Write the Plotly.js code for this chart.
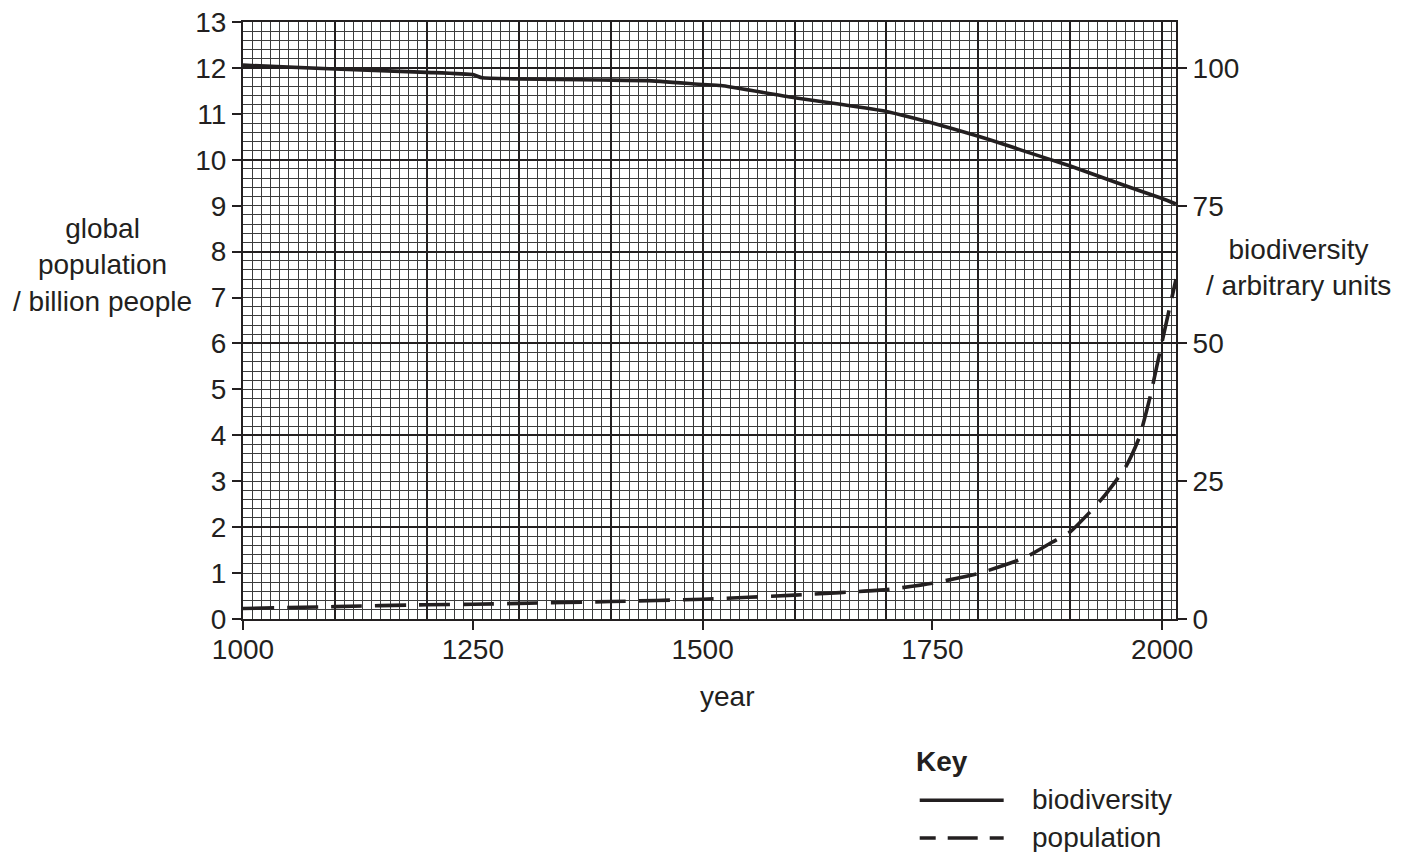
<!DOCTYPE html>
<html>
<head>
<meta charset="utf-8">
<script src="https://cdn.plot.ly/plotly-3.0.1.min.js"></script>
<style>html,body{margin:0;padding:0;background:#fff;}#chart{width:1415px;height:852px;}</style>
</head>
<body>
<div id="chart"></div>
<script>
// ---- data ----
const bioYears  = [1000, 1100, 1200, 1250, 1260, 1300, 1390, 1440, 1500, 1520, 1600, 1650, 1700, 1725, 1750, 1800, 1825, 1850, 1900, 1950, 2000, 2015];
const bioValues = [100.5, 99.8, 99.2, 98.8, 98.2, 98.0, 97.8, 97.7, 97.0, 96.8, 94.6, 93.4, 92.1, 91.1, 90.0, 87.6, 86.3, 84.9, 82.2, 79.2, 76.3, 75.3];

const popYears  = [1000, 1100, 1200, 1250, 1300, 1400, 1500, 1600, 1700, 1750, 1800, 1850, 1880, 1900, 1920, 1935, 1950, 1960, 1975, 1987, 2000, 2010, 2015];
const popValues = [0.23, 0.27, 0.31, 0.32, 0.34, 0.38, 0.43, 0.52, 0.64, 0.78, 0.99, 1.33, 1.67, 1.90, 2.30, 2.63, 3.02, 3.30, 3.95, 4.85, 6.05, 6.95, 7.40];

const xTickVals   = [1000, 1250, 1500, 1750, 2000];
const yLeftTicks  = [0,1,2,3,4,5,6,7,8,9,10,11,12,13];
const yRightTicks = [0, 25, 50, 75, 100];

const seriesNames = ['biodiversity', 'population'];
const xTitle = 'year';
const yLeftTitle = 'global<br>population<br>/ billion people';
const yRightTitle = 'biodiversity<br>/ arbitrary units';
const keyTitle = 'Key';

// ---- styling ----
const INK = '#231f20';
const MINOR = '#3c3c3c';
const FONT = 'Liberation Sans, Arial, Helvetica, sans-serif';
const FS = 28;
const LW = 3.6;
const POP_DASH = '31px,13px';

const traces = [
  {x: [], y: [], xaxis: 'x', yaxis: 'y', type: 'scatter', mode: 'lines', showlegend: false, hoverinfo: 'skip'},
  {x: bioYears, y: bioValues, xaxis: 'x2', yaxis: 'y2', type: 'scatter', mode: 'lines',
   name: seriesNames[0], showlegend: false, line: {color: INK, width: LW, shape: 'spline', smoothing: 0.4}},
  {x: popYears, y: popValues, xaxis: 'x2', yaxis: 'y3', type: 'scatter', mode: 'lines',
   name: seriesNames[1], showlegend: false, line: {color: INK, width: LW, dash: POP_DASH, shape: 'spline', smoothing: 0.5}}
];

const xr = [1000, 2015];
const yr = [0, 13];
const y2r = [0, 1300/12];

const txt = (s, x, y, xa, extra) => Object.assign({
  text: s, xref: 'paper', yref: 'paper', x: x, y: y, xanchor: xa, yanchor: 'middle',
  showarrow: false, align: 'center', font: {size: FS, family: FONT, color: INK}
}, extra || {});

const layout = {
  width: 1415, height: 852,
  margin: {l: 243, r: 239, t: 22, b: 233, pad: 0},
  paper_bgcolor: '#ffffff', plot_bgcolor: '#ffffff',
  font: {family: FONT, size: FS, color: INK},
  showlegend: false,
  xaxis: {
    range: xr, tick0: 1000, dtick: 100, showticklabels: false, ticks: '',
    showgrid: true, gridcolor: INK, gridwidth: 2,
    minor: {tick0: 1000, dtick: 10, showgrid: true, gridcolor: MINOR, gridwidth: 1, ticks: ''},
    showline: true, mirror: true, linecolor: INK, linewidth: 2, zeroline: false, fixedrange: true
  },
  xaxis2: {
    overlaying: 'x', anchor: 'y', side: 'bottom', range: xr,
    tickmode: 'array', tickvals: xTickVals, ticktext: xTickVals.map(String),
    ticks: 'outside', ticklen: 10, tickwidth: 2, tickcolor: INK, ticklabelstandoff: -5,
    showgrid: false, zeroline: false, showline: false,
    tickfont: {size: FS, color: INK, family: FONT}, fixedrange: true
  },
  yaxis: {
    range: yr, tick0: 0, dtick: 2, showticklabels: false, ticks: '',
    showgrid: true, gridcolor: INK, gridwidth: 2,
    minor: {tick0: 0, dtick: 0.2, showgrid: true, gridcolor: MINOR, gridwidth: 1, ticks: ''},
    showline: true, mirror: true, linecolor: INK, linewidth: 2, zeroline: false, fixedrange: true
  },
  yaxis3: {
    overlaying: 'y', anchor: 'x', side: 'left', range: yr,
    tickmode: 'array', tickvals: yLeftTicks, ticktext: yLeftTicks.map(String),
    ticks: 'outside', ticklen: 10, tickwidth: 2, tickcolor: INK,
    showgrid: false, zeroline: false, showline: false,
    tickfont: {size: FS, color: INK, family: FONT}, fixedrange: true
  },
  yaxis2: {
    overlaying: 'y', anchor: 'x', side: 'right', range: y2r,
    tickmode: 'array', tickvals: yRightTicks, ticktext: yRightTicks.map(String),
    ticks: 'outside', ticklen: 10, tickwidth: 2, tickcolor: INK,
    showgrid: false, zeroline: false, showline: false,
    tickfont: {size: FS, color: INK, family: FONT}, fixedrange: true
  },
  annotations: [
    txt(yLeftTitle, -0.1508, 0.593, 'center'),
    txt(yRightTitle, 1.131, 0.5895, 'center'),
    txt(xTitle, 0.519, -0.130, 'center'),
    // key
    txt('<b>' + keyTitle + '</b>', 0.7195, -0.2383, 'left'),
    txt(seriesNames[0], 0.843, -0.302, 'left'),
    txt(seriesNames[1], 0.843, -0.3655, 'left')
  ],
  shapes: [
    {type: 'line', xref: 'paper', yref: 'paper', x0: 0.7253, x1: 0.8153, y0: -0.3035, y1: -0.3035,
     line: {color: INK, width: LW}},
    {type: 'line', xref: 'paper', yref: 'paper', x0: 0.7253, x1: 0.8153, y0: -0.3668, y1: -0.3668,
     line: {color: INK, width: LW, dash: '16px,12px,30px,12px,16px'}}
  ]
};

Plotly.newPlot('chart', traces, layout, {staticPlot: true, displayModeBar: false});
</script>
</body>
</html>
